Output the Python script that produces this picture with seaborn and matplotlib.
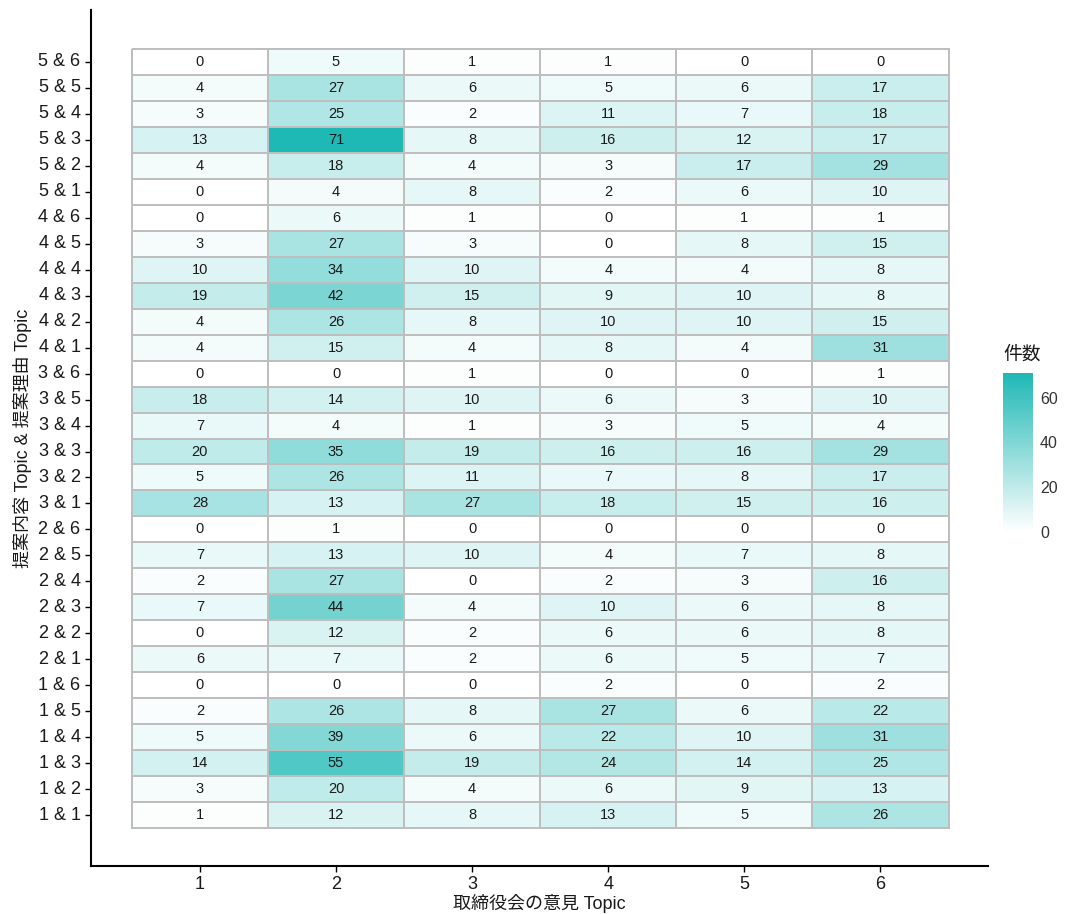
import numpy as np
import pandas as pd
import matplotlib
matplotlib.use("Agg")
import matplotlib.pyplot as plt
from matplotlib.colors import LinearSegmentedColormap
import seaborn as sns

# Row labels: 提案内容 Topic & 提案理由 Topic (top to bottom)
row_labels = [
    "5 & 6", "5 & 5", "5 & 4", "5 & 3", "5 & 2", "5 & 1",
    "4 & 6", "4 & 5", "4 & 4", "4 & 3", "4 & 2", "4 & 1",
    "3 & 6", "3 & 5", "3 & 4", "3 & 3", "3 & 2", "3 & 1",
    "2 & 6", "2 & 5", "2 & 4", "2 & 3", "2 & 2", "2 & 1",
    "1 & 6", "1 & 5", "1 & 4", "1 & 3", "1 & 2", "1 & 1",
]
# Column labels: 取締役会の意見 Topic
col_labels = ["1", "2", "3", "4", "5", "6"]

# Counts per board-opinion topic, same row order as row_labels
topic1 = [0, 4, 3, 13, 4, 0, 0, 3, 10, 19, 4, 4, 0, 18, 7, 20, 5, 28,
          0, 7, 2, 7, 0, 6, 0, 2, 5, 14, 3, 1]
topic2 = [5, 27, 25, 71, 18, 4, 6, 27, 34, 42, 26, 15, 0, 14, 4, 35, 26, 13,
          1, 13, 27, 44, 12, 7, 0, 26, 39, 55, 20, 12]
topic3 = [1, 6, 2, 8, 4, 8, 1, 3, 10, 15, 8, 4, 1, 10, 1, 19, 11, 27,
          0, 10, 0, 4, 2, 2, 0, 8, 6, 19, 4, 8]
topic4 = [1, 5, 11, 16, 3, 2, 0, 0, 4, 9, 10, 8, 0, 6, 3, 16, 7, 18,
          0, 4, 2, 10, 6, 6, 2, 27, 22, 24, 6, 13]
topic5 = [0, 6, 7, 12, 17, 6, 1, 8, 4, 10, 10, 4, 0, 3, 5, 16, 8, 15,
          0, 7, 3, 6, 6, 5, 0, 6, 10, 14, 9, 5]
topic6 = [0, 17, 18, 17, 29, 10, 1, 15, 8, 8, 15, 31, 1, 10, 4, 29, 17, 16,
          0, 8, 16, 8, 8, 7, 2, 22, 31, 25, 13, 26]

counts = pd.DataFrame(
    {c: v for c, v in zip(col_labels, [topic1, topic2, topic3, topic4, topic5, topic6])},
    index=row_labels,
)

sns.set_style("white")
plt.rcParams["font.family"] = ["Liberation Sans", "Noto Sans CJK JP", "DejaVu Sans"]

cmap = LinearSegmentedColormap.from_list("teal", ["#FFFFFF", "#1EB8B5"])

fig = plt.figure(figsize=(10.81, 9.14), dpi=100)
ax = fig.add_axes([91 / 1081, 1 - 866 / 914, (988 - 91) / 1081, (866 - 10) / 914])
cax = fig.add_axes([1003 / 1081, 1 - 532 / 914, 30 / 1081, (532 - 373) / 914])

sns.heatmap(
    counts, ax=ax, cbar_ax=cax, cmap=cmap, vmin=0, vmax=counts.values.max(),
    annot=True, fmt="d", annot_kws={"color": "#1a1a1a", "fontsize": 10.5},
    linewidths=1.1, linecolor="#BEBEBE", square=False,
)

# Expanded plotting region with ggplot-like margins
ax.set_xlim(-0.30, 6.29)
ax.set_ylim(31.46, -1.5)

ax.set_xticks(np.arange(len(col_labels)) + 0.5)
ax.set_xticklabels(col_labels, rotation=0)
ax.set_yticks(np.arange(len(row_labels)) + 0.5)
ax.set_yticklabels(row_labels, rotation=0)
ax.tick_params(axis="both", which="major", labelsize=13, colors="black",
               length=4, width=1.0, direction="out", bottom=True, left=True)
for lbl in ax.get_xticklabels() + ax.get_yticklabels():
    lbl.set_color("#1a1a1a")

for side in ["top", "right"]:
    ax.spines[side].set_visible(False)
for side in ["left", "bottom"]:
    ax.spines[side].set_visible(True)
    ax.spines[side].set_color("black")
    ax.spines[side].set_linewidth(1.5)

ax.set_xlabel("取締役会の意見 Topic", fontsize=13, color="#1a1a1a", labelpad=0.5)
ax.set_ylabel("提案内容 Topic & 提案理由 Topic", fontsize=13, color="#1a1a1a", labelpad=5)

# Colorbar styling
cb = ax.collections[0].colorbar
cb.outline.set_visible(False)
cb.set_ticks([0, 20, 40, 60])
cax.tick_params(axis="y", direction="in", color="white", length=6, width=0.8,
                left=True, right=True, labelleft=False, labelright=True,
                labelsize=11.5, labelcolor="#333333", pad=5)
fig.text(1003 / 1081, 1 - 355 / 914, "件数", fontsize=13.5, ha="left", va="center",
         color="#1a1a1a")

fig.savefig("out.png", dpi=100)
